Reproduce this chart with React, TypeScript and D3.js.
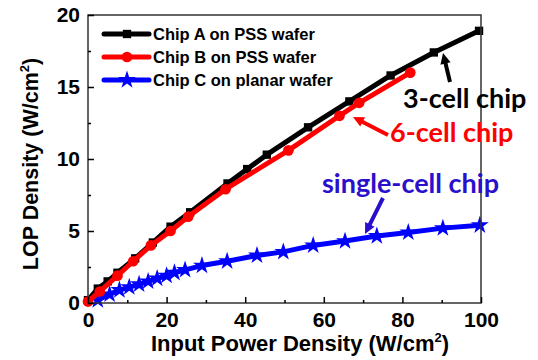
import * as d3 from 'd3';
import React, { useEffect, useRef } from 'react';

// Chip A on PSS wafer (3-cell)
const chipAX = [0, 2.5, 5, 7.5, 12, 16.5, 21, 26, 35.5, 40.5, 45.5, 56, 66.5, 77, 88, 99.5];
const chipAY = [0.2, 1.0, 1.5, 2.1, 3.1, 4.2, 5.3, 6.3, 8.3, 9.3, 10.3, 12.2, 14.0, 15.8, 17.4, 18.9];

// Chip B on PSS wafer (6-cell)
const chipBX = [0, 3, 7.5, 11.5, 16, 21, 25.5, 35, 51, 64, 69, 82];
const chipBY = [0.1, 0.8, 1.9, 2.9, 4.0, 5.0, 6.0, 7.9, 10.6, 13.0, 13.9, 16.0];

// Chip C on planar wafer (single-cell)
const chipCX = [2.5, 5.5, 8, 10.5, 13, 15.3, 17.6, 20, 22, 24.7, 29, 35.4, 43, 49.7, 57.3, 65.4, 73.5, 81.5, 90.3, 99.7];
const chipCY = [0.2, 0.6, 0.9, 1.1, 1.3, 1.5, 1.7, 1.9, 2.1, 2.3, 2.6, 2.9, 3.3, 3.55, 4.0, 4.3, 4.65, 4.9, 5.2, 5.4];

const legendLabels = ['Chip A on PSS wafer', 'Chip B on PSS wafer', 'Chip C on planar wafer'];
const xTicks = [0, 20, 40, 60, 80, 100];
const yTicks = [0, 5, 10, 15, 20];

export default function App(): React.JSX.Element {
	const chartRef = useRef<SVGSVGElement | null>(null);

	useEffect(() => {
		if (chartRef.current === null) return;
		const svgRoot = d3.select(chartRef.current);
		svgRoot.selectAll('*').remove();

		const width = 538;
		const height = 360;
		const margin = { top: 15, right: 57, bottom: 57, left: 88 };

		const svg = svgRoot.attr('width', width).attr('height', height);

		const xScale = d3.scaleLinear().domain([0, 100]).range([margin.left, width - margin.right]);
		const yScale = d3.scaleLinear().domain([0, 20]).range([height - margin.bottom, margin.top]);

		const font = '"Liberation Sans", Arial, sans-serif';

		const series = [
			{ xs: chipAX, ys: chipAY, color: '#000000', marker: 'square' },
			{ xs: chipBX, ys: chipBY, color: '#ff0000', marker: 'circle' },
			{ xs: chipCX, ys: chipCY, color: '#0000ff', marker: 'star' },
		];

		const line = d3.line<[number, number]>()
			.x(d => xScale(d[0]))
			.y(d => yScale(d[1]));

		const symbolFor = (marker: string) => {
			if (marker === 'square') return d3.symbol().type(d3.symbolSquare).size(70)();
			if (marker === 'circle') return d3.symbol().type(d3.symbolCircle).size(90)();
			return d3.symbol().type(d3.symbolStar).size(100)();
		};

		const plot = svg.append('g');

		// draw C first, then A, then B on top
		[series[2], series[0], series[1]].forEach(s => {
			const pts: [number, number][] = s.xs.map((x, i) => [x, s.ys[i]]);
			plot.append('path')
				.attr('d', line(pts) ?? '')
				.attr('fill', 'none')
				.attr('stroke', s.color)
				.attr('stroke-width', 5)
				.attr('stroke-linejoin', 'round');
			plot.selectAll(null)
				.data(pts)
				.enter()
				.append('path')
				.attr('d', symbolFor(s.marker))
				.attr('transform', d => `translate(${xScale(d[0])},${yScale(d[1])})`)
				.attr('fill', s.color);
		});

		// frame
		svg.append('rect')
			.attr('x', margin.left)
			.attr('y', margin.top)
			.attr('width', width - margin.left - margin.right)
			.attr('height', height - margin.top - margin.bottom)
			.attr('fill', 'none')
			.attr('stroke', '#333')
			.attr('stroke-width', 1.5);

		// x axis
		const xAxis = svg.append('g')
			.attr('transform', `translate(0, ${height - margin.bottom})`)
			.call(d3.axisBottom(xScale).tickValues(xTicks).tickSizeInner(-6).tickSizeOuter(0).tickPadding(9));
		xAxis.select('.domain').remove();
		xAxis.selectAll('line').attr('stroke', '#000').attr('stroke-width', 1.5);
		xAxis.selectAll('text')
			.attr('font-family', font)
			.attr('font-weight', 'bold')
			.attr('font-size', 21)
			.attr('fill', '#000');
		svg.append('g')
			.attr('transform', `translate(0, ${height - margin.bottom})`)
			.call(d3.axisBottom(xScale).tickValues(d3.range(10, 100, 20)).tickSizeInner(-3).tickSizeOuter(0).tickFormat(() => ''))
			.call(g => g.select('.domain').remove())
			.selectAll('line').attr('stroke', '#000').attr('stroke-width', 1.5);

		// y axis
		const yAxis = svg.append('g')
			.attr('transform', `translate(${margin.left}, 0)`)
			.call(d3.axisLeft(yScale).tickValues(yTicks).tickSizeInner(-6).tickSizeOuter(0).tickPadding(8));
		yAxis.select('.domain').remove();
		yAxis.selectAll('line').attr('stroke', '#000').attr('stroke-width', 1.5);
		yAxis.selectAll('text')
			.attr('font-family', font)
			.attr('font-weight', 'bold')
			.attr('font-size', 21)
			.attr('fill', '#000');
		svg.append('g')
			.attr('transform', `translate(${margin.left}, 0)`)
			.call(d3.axisLeft(yScale).tickValues(d3.range(2.5, 20, 5)).tickSizeInner(-3).tickSizeOuter(0).tickFormat(() => ''))
			.call(g => g.select('.domain').remove())
			.selectAll('line').attr('stroke', '#000').attr('stroke-width', 1.5);

		// axis titles
		const xTitle = svg.append('text')
			.attr('x', 300)
			.attr('y', 351)
			.attr('text-anchor', 'middle')
			.attr('font-family', font)
			.attr('font-weight', 'bold')
			.attr('font-size', 22);
		xTitle.append('tspan').text('Input Power Density (W/cm');
		xTitle.append('tspan').attr('dy', -9).attr('font-size', 13).text('2');
		xTitle.append('tspan').attr('dy', 9).text(')');

		const yTitle = svg.append('text')
			.attr('transform', 'translate(38, 164) rotate(-90)')
			.attr('text-anchor', 'middle')
			.attr('font-family', font)
			.attr('font-weight', 'bold')
			.attr('font-size', 21.5);
		yTitle.append('tspan').text('LOP Density (W/cm');
		yTitle.append('tspan').attr('dy', -9).attr('font-size', 13).text('2');
		yTitle.append('tspan').attr('dy', 9).text(')');

		// legend
		const legend = svg.append('g').attr('transform', 'translate(104, 34)');
		series.forEach((s, i) => {
			const row = legend.append('g').attr('transform', `translate(0, ${i * 23})`);
			row.append('line')
				.attr('x1', 0).attr('x2', 45)
				.attr('stroke', s.color)
				.attr('stroke-width', 5)
				.attr('stroke-linecap', 'round');
			row.append('path')
				.attr('d', symbolFor(s.marker))
				.attr('transform', 'translate(23,0)')
				.attr('fill', s.color);
			row.append('text')
				.attr('x', 49)
				.attr('dy', '0.35em')
				.attr('font-family', font)
				.attr('font-weight', 'bold')
				.attr('font-size', 16.5)
				.text(legendLabels[i]);
		});

		// annotations
		const noteFont = 'Lato, "Open Sans", sans-serif';
		const arrow = (x1: number, y1: number, x2: number, y2: number, color: string) => {
			const ang = Math.atan2(y2 - y1, x2 - x1);
			const len = 12;
			const spread = 0.45;
			svg.append('line')
				.attr('x1', x1).attr('y1', y1)
				.attr('x2', x2 - Math.cos(ang) * 6).attr('y2', y2 - Math.sin(ang) * 6)
				.attr('stroke', color)
				.attr('stroke-width', 4);
			const p1 = [x2 - len * Math.cos(ang - spread), y2 - len * Math.sin(ang - spread)];
			const p2 = [x2 - len * Math.cos(ang + spread), y2 - len * Math.sin(ang + spread)];
			svg.append('path')
				.attr('d', `M${x2},${y2}L${p1[0]},${p1[1]}L${p2[0]},${p2[1]}Z`)
				.attr('fill', color);
		};

		arrow(450, 82, 443, 53, '#000000');
		arrow(388, 135, 353, 117, '#ff0000');
		arrow(383, 198, 365, 234, '#2a10cc');

		const notes = [
			{ text: '3-cell chip', x: 403, y: 108, color: '#000000' },
			{ text: '6-cell chip', x: 390, y: 142, color: '#ff0000' },
			{ text: 'single-cell chip', x: 322, y: 193, color: '#2a10cc' },
		];
		notes.forEach(n => {
			svg.append('text')
				.attr('x', n.x).attr('y', n.y)
				.attr('font-family', noteFont)
				.attr('font-weight', 'bold')
				.attr('font-size', 27)
				.attr('fill', n.color)
				.text(n.text);
		});
	}, []);

	return <svg ref={chartRef} style={{ position: 'absolute', left: 0, top: 0 }} />;
}
